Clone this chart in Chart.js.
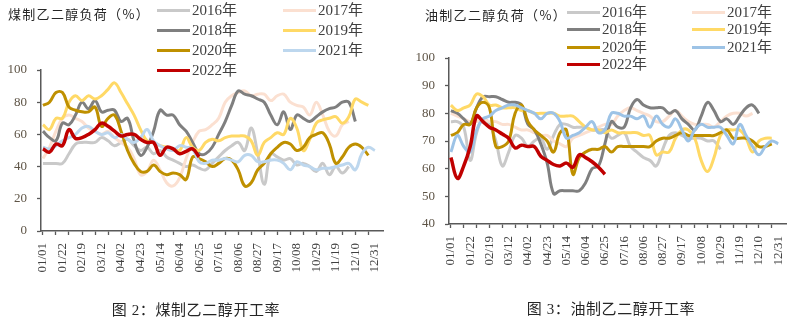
<!DOCTYPE html>
<html>
<head>
<meta charset="utf-8">
<script src="https://cdn.jsdelivr.net/npm/chart.js@4.4.0/dist/chart.umd.min.js"></script>
<style>
  body { margin: 0; background: #fff; }
  #wrap { position: relative; width: 802px; height: 325px; overflow: hidden; }
  canvas { position: absolute; top: 0; }
  .ttl { position: absolute; font: 13px "Noto Sans CJK SC", sans-serif; letter-spacing: 1.3px; color: #262626; white-space: nowrap; }
  .cap { position: absolute; font: 15px "Liberation Serif", "Noto Sans CJK SC", serif; letter-spacing: 0.6px; color: #262626; white-space: nowrap; transform: translateX(-50%); }
  .lg { position: absolute; font: 15px "Liberation Serif", "Noto Sans CJK SC", serif; color: #404040; white-space: nowrap; line-height: 16px; transform: translateY(-50%); }
  .lg i { display: inline-block; width: 33px; height: 3px; vertical-align: middle; margin-right: 2px; position: relative; top: -1px; }
</style>
</head>
<body>
<div id="wrap">
  <canvas id="coal" width="400" height="325" style="left:0"></canvas>
  <canvas id="oil" width="402" height="325" style="left:400px"></canvas>
  <div class="ttl" style="left:8px;top:4px">煤制乙二醇负荷（%）</div>
  <div class="ttl" style="left:425px;top:5px">油制乙二醇负荷（%）</div>
  <div class="cap" style="left:196px;top:298px">图 2：煤制乙二醇开工率</div>
  <div class="cap" style="left:611px;top:297px">图 3：油制乙二醇开工率</div>
</div>
<script>
// weekly dates, spring festival weeks merged
var categories = ['01/01','01/08','01/15','01/22','02/05','02/12','02/19','02/26','03/05','03/12',
  '03/19','03/26','04/02','04/09','04/16','04/23','04/30','05/07','05/14','05/21',
  '05/28','06/04','06/11','06/18','06/25','07/02','07/09','07/16','07/23','07/30',
  '08/06','08/13','08/20','08/27','09/03','09/10','09/17','09/24','10/01','10/08',
  '10/15','10/22','10/29','11/05','11/12','11/19','11/26','12/03','12/10','12/17',
  '12/24','12/31'];
var years = ['2016年','2017年','2018年','2019年','2020年','2021年','2022年'];

// 煤制乙二醇负荷 (%)
var coal2016 = [42,42,42,42,48,54,55,55,55,58,56,53,55,57,53,50,52,48,50,46,44,42,40,41,39,38,42,46,50,53,55,50,64,48,29,48,46,44,45,41,42,40,37,42,35,40,36,40];
var coal2017 = [45,52,62,70,72,70,68,64,62,60,62,58,55,52,45,35,37,44,38,30,28,33,45,55,62,63,66,70,80,84,86,87,84,85,85,81,84,85,80,78,77,72,80,72,62,59,66,68];
var coal2018 = [62,58,56,67,66,72,80,76,81,74,75,75,68,70,56,47,52,62,75,72,72,66,62,55,48,48,52,60,68,78,87,85,84,82,80,72,66,74,63,72,70,68,71,74,76,77,80,80,68];
var coal2019 = [66,63,70,70,80,84,81,84,82,84,88,92,86,79,72,63,56,55,53,52,51,50,58,52,50,55,57,56,58,59,59,59,56,47,55,58,61,60,70,64,50,57,67,69,70,71,67,71,82,80,78];
var coal2020 = [78,80,86,86,77,75,74,74,77,65,70,72,62,50,42,37,37,41,37,35,36,35,32,46,45,43,40,42,45,44,38,28,30,38,42,48,52,55,54,50,52,58,60,61,54,42,46,52,54,52,47];
var coal2021 = [52,51,53,56,58,60,64,65,62,60,61,58,60,57,55,58,63,56,53,51,50,53,52,51,43,42,44,44,45,44,43,47,47,43,43,44,44,42,38,43,41,40,38,39,39,40,41,42,38,48,52,50];
var coal2022 = [51,49,54,53,63,57.5,58,60,63,67,65,62,59,60,60,57,55,55,47,52,51,48,49.5,51,46];

// 油制乙二醇负荷 (%)
var oil2016 = [77,77,75,63,73,78,76,70,61,66,72,71,68,70,71,67,72,76,76,75,75,75,74,74,74,71,72,73,68,66,64,63,61,67,72,73,72,71,71,71,70,70,67];
var oil2017 = [80,79,78,77,77,78,77,77,76,76,75,74,74,73,72,72,70,69,68,71,72,73,74,75,76,76,79,81,82,81,80,79,77,77,79,81,79,77,76,76,76,75,77,79,80,80,79,80];
var oil2018 = [81,80,78,76,82,86,86,86,85,84,84,83,76,74,69,62,51,52,52,52,52,55,60,61,69,77,75,75,82,85,83,82,82,82,80,81,78,76,74,79,84,81,77,78,76,79,82,83,80];
var oil2019 = [83,81,82,83,87,86,83,83,82,82,82,81,81,80,80,80,80,79,79,79,77,75,74,74,73,74,73,73,73,73,72,72,65,66,66,71,74,74,71,63,59,64,72,74,74,74,71,66,70,71,71];
var oil2020 = [72,73,76,76,82,84,82,68,68,70,80,83,77,74,72,70,66,73,74,58,64,66,67,67,68,66,68,68,68,68,68,68,70,71,71,72,73,72,72,72,72,72,73,74,71,71,71,70,68,68,69];
var oil2021 = [66,72,68,66,74,78,79,81,82,83,83,82,81,80,78,80,80,77,71,72,73,75,77,73,74,80,80,79,79,78,79,75,79,76,75,78,74,70,74,76,75,75,75,72,69,76,72,68,65,68,70,69];
var oil2022 = [64,56.5,61,68,79,77,75,74,72.5,71,67.5,68.5,68,68,64.5,63,61.5,61,62,60.5,65,64,62.5,60.5,58];

var coalColors = ['#c9c9c9','#fbe0d1','#7f7f7f','#ffd966','#bf9000','#bdd7ee','#c00000'];
var oilColors  = ['#c9c9c9','#fbe0d1','#7f7f7f','#ffd966','#bf9000','#9dc3e6','#c00000'];

var axisColor = '#595959';

function makeChart(id, series, colors, o) {
  var ctx = document.getElementById(id).getContext('2d');
  return new Chart(ctx, {
    type: 'line',
    data: {
      datasets: series.map(function (s, k) {
        return {
          label: years[k],
          data: s.map(function (v, i) { return { x: i, y: v }; }),
          borderColor: colors[k],
          backgroundColor: colors[k],
          borderWidth: k === 6 ? 3.5 : 3,
          pointRadius: 0,
          tension: 0.4,
          fill: false,
          order: series.length - k   // later years on top
        };
      })
    },
    options: {
      responsive: false,
      animation: false,
      layout: { padding: { left: 0, right: o.right, top: o.top, bottom: 0 } },
      plugins: { legend: { display: false }, tooltip: { enabled: false } },
      scales: {
        x: {
          type: 'linear', min: -0.3, max: 52.25,
          afterBuildTicks: function (sc) {
            sc.ticks = categories.map(function (c, i) { return { value: i }; });
          },
          afterFit: function (sc) { sc.height = o.xh; },
          ticks: {
            autoSkip: false, minRotation: 90, maxRotation: 90, padding: 8,
            color: '#404040', font: { family: 'Liberation Serif', size: 13 },
            callback: function (v, i) { return i % 3 === 0 ? categories[i] : ''; }
          },
          grid: {
            drawOnChartArea: false, tickLength: 4, tickWidth: 1.3,
            tickColor: function (c) { return c.index % 2 === 0 ? axisColor : 'rgba(0,0,0,0)'; }
          },
          border: { color: axisColor, width: 1.5 }
        },
        y: {
          min: o.ymin, max: o.ymax,
          afterFit: function (sc) { sc.width = o.yw; },
          ticks: {
            stepSize: o.step, padding: 10,
            color: '#5e5446', font: { family: 'Liberation Serif', size: 13 }
          },
          grid: { drawOnChartArea: false, tickLength: 4, tickWidth: 1.3, tickColor: axisColor },
          border: { color: axisColor, width: 1.5 }
        }
      }
    }
  });
}

// two-column legend next to the panel title
function addLegend(chart, cols, rows) {
  var wrap = document.getElementById('wrap');
  chart.data.datasets.forEach(function (ds, k) {
    var d = document.createElement('div');
    d.className = 'lg';
    d.style.left = cols[k % 2] + 'px';
    d.style.top = rows[Math.floor(k / 2)] + 'px';
    d.innerHTML = '<i style="background:' + ds.borderColor + '"></i>' + ds.label;
    wrap.appendChild(d);
  });
}

var coalChart = makeChart('coal',
  [coal2016, coal2017, coal2018, coal2019, coal2020, coal2021, coal2022], coalColors,
  { top: 70, right: 17, xh: 94, yw: 41, ymin: 0, ymax: 100, step: 20 });
var oilChart = makeChart('oil',
  [oil2016, oil2017, oil2018, oil2019, oil2020, oil2021, oil2022], oilColors,
  { top: 58, right: 9, xh: 101, yw: 49, ymin: 40, ymax: 100, step: 10 });

addLegend(coalChart, [157, 283], [10, 30, 50, 70]);
addLegend(oilChart, [567, 692], [12, 29, 47, 64]);
</script>
</body>
</html>
